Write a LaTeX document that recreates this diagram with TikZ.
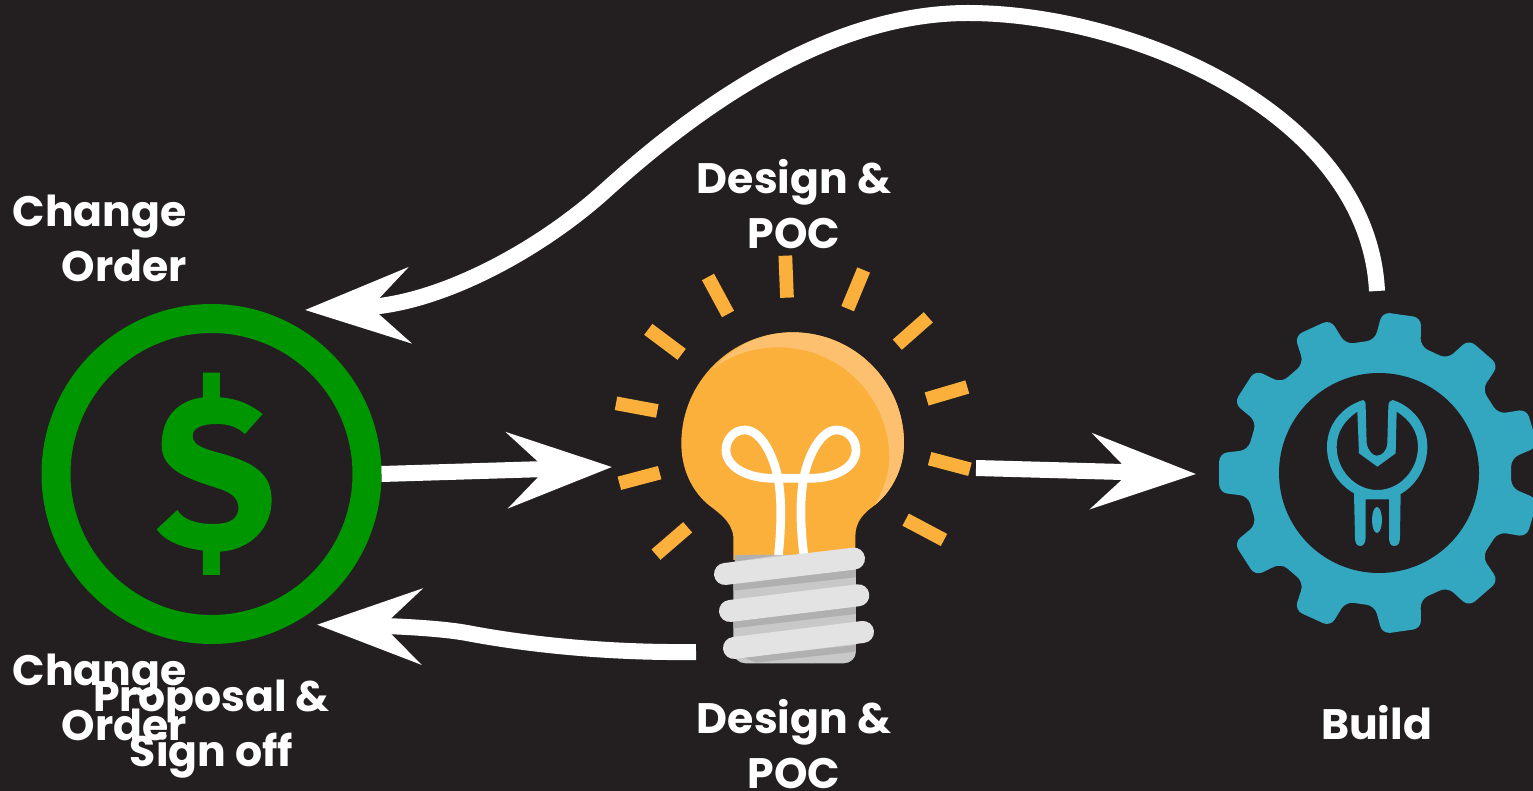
\documentclass[tikz,border=0pt]{standalone}
\usepackage{fontspec}
\setmainfont{Poppins}
\usetikzlibrary{
  arrows.meta
}
\definecolor{board}{RGB}{35,31,32}
\definecolor{money}{RGB}{0,150,0}
\definecolor{glow}{RGB}{251,176,59}
\definecolor{shine}{RGB}{253,192,110}
\definecolor{socket}{RGB}{200,200,200}
\definecolor{groove}{RGB}{176,176,176}
\definecolor{thread}{RGB}{227,227,227}
\definecolor{cog}{RGB}{51,166,192}

\begin{document}
\begin{tikzpicture}[
  x=1pt,
  y=-1pt,
  coin/.style={
    draw=money,
    circle,
    fill=none,
    line width=29pt,
    minimum size=311pt,
    inner sep=0pt
  },
  label/.style={
    text=white,
    font=\fontsize{42.6}{55}\selectfont\bfseries,
    inner sep=0pt
  },
  flow/.style={
    draw=white,
    line width=16pt,
    -{Stealth[length=104pt,width=75pt,inset=38pt]}
  },
  zoomed/.style={
    x=0.3333pt,
    y=-0.3333pt
  }
]

\useasboundingbox (0,0) rectangle (1533,791);
\fill[board] (0,0) rectangle (1533,791);

% Coin
\node[coin] (dollar) at (211.5,474) {};
\begin{scope}[shift={(20,290)},zoomed]
  \fill[money] (728,372) .. controls (680,335) and (640,325) .. (600,322)
    -- (600,248) -- (549,248) -- (549,322)
    .. controls (470,332) and (425,385) .. (425,465)
    .. controls (425,540) and (500,565) .. (600,597)
    .. controls (640,610) and (658,630) .. (655,660)
    .. controls (650,695) and (615,702) .. (580,702)
    .. controls (530,702) and (490,690) .. (472,660)
    -- (410,718) .. controls (440,760) and (500,775) .. (549,782)
    -- (549,855) -- (600,855) -- (600,785)
    .. controls (690,780) and (755,715) .. (755,630)
    .. controls (755,550) and (700,520) .. (620,495)
    .. controls (560,478) and (518,470) .. (518,437)
    .. controls (518,412) and (550,402) .. (590,402)
    .. controls (625,402) and (650,410) .. (675,432) -- cycle;
\end{scope}

% Bulb
\begin{scope}[shift={(600,240)},zoomed]
  \foreach \xa/\ya/\xb/\yb in {
    556/47/561/173, 324/111/384/222, 145/268/245/343, 48/490/172/513,
    58/730/179/698, 168/944/263/862, 791/90/743/206, 985/232/892/314,
    1102/441/980/477, 1110/688/989/656, 1032/900/917/839
  } {
    \draw[glow,line width=13.7pt] (\xa,\ya) -- (\xb,\yb);
  }
  \fill[glow] (400,960) -- (400,890)
    .. controls (395,840) and (350,815) .. (320,790)
    .. controls (270,745) and (244,680) .. (244,610)
    .. controls (244,425) and (395,277) .. (578,277)
    .. controls (762,277) and (912,425) .. (912,610)
    .. controls (912,680) and (880,750) .. (825,795)
    .. controls (790,820) and (766,845) .. (766,890)
    -- (766,960) -- cycle;
  \fill[shine] (340,385) .. controls (400,340) and (470,322) .. (535,322)
    .. controls (720,322) and (868,470) .. (868,655)
    .. controls (868,700) and (850,750) .. (825,795)
    .. controls (880,750) and (912,680) .. (912,610)
    .. controls (912,425) and (762,277) .. (578,277)
    .. controls (480,277) and (400,320) .. (340,385) -- cycle;
  \draw[white,line width=8.7pt] (535,950)
    .. controls (545,850) and (545,780) .. (535,720)
    .. controls (520,640) and (480,570) .. (435,570)
    .. controls (400,570) and (378,600) .. (378,630)
    .. controls (378,680) and (440,715) .. (520,715)
    -- (630,715) .. controls (710,715) and (768,680) .. (768,630)
    .. controls (768,600) and (745,570) .. (710,570)
    .. controls (665,570) and (625,640) .. (610,720)
    .. controls (600,780) and (600,850) .. (612,950);
  % Socket
  \fill[thread] (517,1255) -- (517,1272) arc[start angle=180,end angle=360,radius=60.5] -- (638,1255) -- cycle;
  \fill[socket,rounded corners=12pt] (400,945) -- (400,1270) -- (768,1270) -- (768,945) -- cycle;
  \fill[groove] (400,1025) -- (768,985) -- (768,1012) -- (400,1052) -- cycle;
  \fill[groove] (400,1135) -- (768,1095) -- (768,1122) -- (400,1165) -- cycle;
  \fill[groove] (430,1252) -- (768,1215) -- (768,1235) -- (470,1268) -- cycle;
  \fill[groove] (405,945) -- (530,945) -- (405,965) -- cycle;
  \draw[thread,line width=22pt,line cap=round] (375,1002) -- (762,956);
  \draw[thread,line width=22pt,line cap=round] (390,1113) -- (775,1066);
  \draw[thread,line width=22pt,line cap=round] (402,1224) -- (789,1176);
\end{scope}

% Gear
\begin{scope}[shift={(1379,473)}]
  \fill[cog,rounded corners=8pt] (170:133)
    \foreach \k in {1,...,10} {
      -- ({180-\k*32.727+10}:133) -- ({180-\k*32.727+7}:161)
      -- ({180-\k*32.727-7}:161) -- ({180-\k*32.727-10}:133)
    }
    -- (190:133) -- (187:161) -- (173:161) -- cycle;
  \fill[board] (0,0) circle[radius=100];
\end{scope}
\begin{scope}[shift={(1200,290)},zoomed]
  \fill[cog,even odd rule] (490,330) .. controls (497,332) and (497,340) .. (497,350)
    -- (500,460) .. controls (505,485) and (520,497) .. (530,497)
    .. controls (545,497) and (560,485) .. (562,460)
    -- (565,350) .. controls (565,338) and (570,330) .. (578,330)
    .. controls (640,350) and (682,405) .. (682,470)
    .. controls (682,530) and (650,585) .. (602,612)
    -- (600,740) .. controls (600,760) and (595,768) .. (582,768)
    .. controls (570,768) and (567,755) .. (567,740)
    -- (567,628) -- (497,628) -- (497,740)
    .. controls (497,760) and (490,768) .. (480,768)
    .. controls (468,768) and (465,755) .. (465,740)
    -- (462,610) .. controls (410,580) and (381,530) .. (381,470)
    .. controls (381,405) and (425,350) .. (490,330) -- cycle
    (472,365) .. controls (435,390) and (410,425) .. (410,470)
    .. controls (410,540) and (465,600) .. (532,600)
    .. controls (600,600) and (654,540) .. (654,470)
    .. controls (654,425) and (630,390) .. (590,365)
    -- (587,490) -- (532,530) -- (477,490) -- cycle;
  \fill[cog] (531,690) ellipse[x radius=15,y radius=39];
\end{scope}

% Arrows
\coordinate (bulbIn) at (612,467);
\coordinate (bulbOut) at (976,468);
\coordinate (bulbBack) at (696,652);
\coordinate (gearIn) at (1196,474);
\coordinate (gearTop) at (1377,291);
\coordinate (gearPeak) at (968,13);
\coordinate (dollarTop) at (305,310);
\coordinate (dollarLow) at (317,624.7);

\draw[flow] (dollar.east) -- (bulbIn);
\draw[flow] (bulbOut) -- (gearIn);
\draw[flow] (bulbBack) .. controls (610,653) and (530,645) .. (467,633)
  .. controls (440,628) and (390,626) .. (dollarLow);
\draw[flow] (gearTop) .. controls (1368,112) and (1130,13) .. (gearPeak)
  .. controls (830,13) and (700,105) .. (606,190)
  .. controls (540,250) and (440,304) .. (dollarTop);

% Labels
\node[label,align=right,anchor=east] (changeTop) at (187,238) {Change\\Order};
\node[label,align=right,anchor=east] (changeLow) at (187,697) {Change\\Order};
\node[label,align=center] (proposal) at (211.5,729.5) {Proposal \&\\Sign off};
\node[label,align=center] (designTop) at (794,204) {Design \&\\POC};
\node[label,align=center] (designLow) at (794,744) {Design \&\\POC};
\node[label] (build) at (1376.5,723) {Build};

\end{tikzpicture}
\end{document}
